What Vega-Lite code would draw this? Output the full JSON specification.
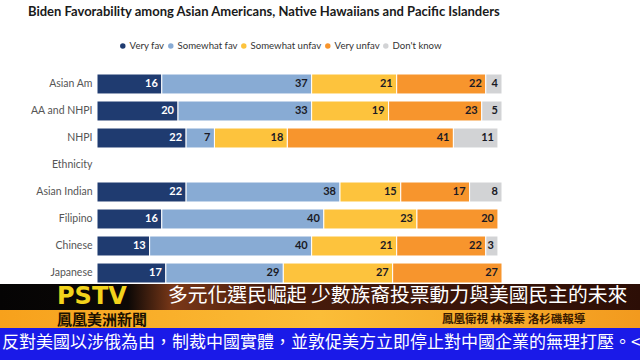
{
  "$schema": "https://vega.github.io/schema/vega-lite/v6.json",
  "background": "white",
  "padding": {"left": 0, "top": 5, "right": 0, "bottom": 0},
  "columns": 1,
  "spacing": 0,
  "config": {"view": {"stroke": null}},
  "concat": [
    {
      "width": 502,
      "height": 209,
      "title": {
        "text": "Biden Favorability among Asian Americans, Native Hawaiians and Pacific Islanders",
        "anchor": "start",
        "frame": "group",
        "dx": 28,
        "offset": 55,
        "font": "Lato",
        "fontSize": 13,
        "fontWeight": "bold",
        "color": "#1a1a1a"
      },
      "data": {
        "values": [
          {"group": "Asian Am", "response": "Very fav", "value": 16},
          {"group": "Asian Am", "response": "Somewhat fav", "value": 37},
          {"group": "Asian Am", "response": "Somewhat unfav", "value": 21},
          {"group": "Asian Am", "response": "Very unfav", "value": 22},
          {"group": "Asian Am", "response": "Don't know", "value": 4},
          {"group": "AA and NHPI", "response": "Very fav", "value": 20},
          {"group": "AA and NHPI", "response": "Somewhat fav", "value": 33},
          {"group": "AA and NHPI", "response": "Somewhat unfav", "value": 19},
          {"group": "AA and NHPI", "response": "Very unfav", "value": 23},
          {"group": "AA and NHPI", "response": "Don't know", "value": 5},
          {"group": "NHPI", "response": "Very fav", "value": 22},
          {"group": "NHPI", "response": "Somewhat fav", "value": 7},
          {"group": "NHPI", "response": "Somewhat unfav", "value": 18},
          {"group": "NHPI", "response": "Very unfav", "value": 41},
          {"group": "NHPI", "response": "Don't know", "value": 11},
          {"group": "Asian Indian", "response": "Very fav", "value": 22},
          {"group": "Asian Indian", "response": "Somewhat fav", "value": 38},
          {"group": "Asian Indian", "response": "Somewhat unfav", "value": 15},
          {"group": "Asian Indian", "response": "Very unfav", "value": 17},
          {"group": "Asian Indian", "response": "Don't know", "value": 8},
          {"group": "Filipino", "response": "Very fav", "value": 16},
          {"group": "Filipino", "response": "Somewhat fav", "value": 40},
          {"group": "Filipino", "response": "Somewhat unfav", "value": 23},
          {"group": "Filipino", "response": "Very unfav", "value": 20},
          {"group": "Chinese", "response": "Very fav", "value": 13},
          {"group": "Chinese", "response": "Somewhat fav", "value": 40},
          {"group": "Chinese", "response": "Somewhat unfav", "value": 21},
          {"group": "Chinese", "response": "Very unfav", "value": 22},
          {"group": "Chinese", "response": "Don't know", "value": 3},
          {"group": "Japanese", "response": "Very fav", "value": 17},
          {"group": "Japanese", "response": "Somewhat fav", "value": 29},
          {"group": "Japanese", "response": "Somewhat unfav", "value": 27},
          {"group": "Japanese", "response": "Very unfav", "value": 27}
        ]
      },
      "transform": [
        {"calculate": "indexof(['Very fav','Somewhat fav','Somewhat unfav','Very unfav',\"Don't know\"], datum.response)", "as": "k"}
      ],
      "encoding": {
        "y": {
          "field": "group",
          "type": "nominal",
          "scale": {
            "domain": ["Asian Am", "AA and NHPI", "NHPI", "Ethnicity", "Asian Indian", "Filipino", "Chinese", "Japanese"],
            "paddingInner": 0.26,
            "paddingOuter": 0
          },
          "axis": {
            "title": null,
            "domain": false,
            "ticks": false,
            "offset": -97,
            "labelFont": "Lato",
            "labelFontSize": 10.5,
            "labelColor": "#555555",
            "labelPadding": 5
          }
        },
        "x": {
          "field": "value",
          "type": "quantitative",
          "stack": "zero",
          "scale": {"domain": [0, 100], "nice": false, "range": [97, 502]},
          "axis": null
        },
        "order": {"field": "k", "type": "quantitative"},
        "detail": {"field": "response", "type": "nominal"}
      },
      "layer": [
        {
          "mark": {"type": "bar", "stroke": "white", "strokeWidth": 1},
          "encoding": {
            "color": {
              "field": "response",
              "type": "nominal",
              "scale": {
                "domain": ["Very fav", "Somewhat fav", "Somewhat unfav", "Very unfav", "Don't know"],
                "range": ["#1f3b70", "#88abd4", "#fdc33d", "#f7952d", "#d2d3d5"]
              },
              "legend": {
                "orient": "none",
                "legendX": 118,
                "legendY": -33,
                "direction": "horizontal",
                "title": null,
                "symbolType": "circle",
                "symbolSize": 30,
                "symbolStrokeWidth": 0,
                "labelFont": "Lato",
                "labelFontSize": 9.6,
                "labelColor": "#333333",
                "labelOffset": 2,
                "columnPadding": 1
              }
            }
          }
        },
        {
          "mark": {"type": "text", "align": "right", "baseline": "middle", "dx": -4, "font": "Lato", "fontWeight": "bold", "fontSize": 11},
          "encoding": {
            "text": {"field": "value", "type": "quantitative"},
            "color": {
              "condition": {"test": "datum.response === 'Very fav'", "value": "#ffffff"},
              "value": "#1a1a24"
            }
          }
        }
      ]
    },
    {
      "width": 640,
      "height": 26,
      "data": {"values": [{"logo": "PSTV", "headline": "多元化選民崛起 少數族裔投票動力與美國民主的未來"}]},
      "layer": [
        {
          "mark": {
            "type": "rect",
            "fill": {
              "gradient": "linear", "x1": 0, "x2": 1, "y1": 0, "y2": 0,
              "stops": [
                {"offset": 0, "color": "#050404"},
                {"offset": 0.2, "color": "#0c0806"},
                {"offset": 0.27, "color": "#7a3818"},
                {"offset": 0.42, "color": "#4a1c0c"},
                {"offset": 1, "color": "#2c0e06"}
              ]
            }
          },
          "encoding": {}
        },
        {
          "mark": {"type": "text", "align": "left", "baseline": "middle", "dx": -263, "font": "DejaVu Sans", "fontWeight": "bold", "fontSize": 24, "color": "#f2d31b"},
          "encoding": {"text": {"field": "logo"}}
        },
        {
          "mark": {"type": "text", "align": "left", "baseline": "middle", "dx": -152, "dy": -1, "font": "Noto Sans CJK TC", "fontSize": 19.8, "color": "#ffffff"},
          "encoding": {"text": {"field": "headline"}}
        }
      ]
    },
    {
      "width": 640,
      "height": 18,
      "data": {"values": [{"left": "鳳凰美洲新聞", "right": "鳳凰衛視 林漢秦 洛杉磯報導"}]},
      "layer": [
        {
          "mark": {
            "type": "rect",
            "fill": {
              "gradient": "linear", "x1": 0, "x2": 1, "y1": 0, "y2": 0,
              "stops": [
                {"offset": 0, "color": "#f7a11c"},
                {"offset": 0.5, "color": "#fbbd38"},
                {"offset": 1, "color": "#f29a1e"}
              ]
            }
          },
          "encoding": {}
        },
        {
          "mark": {"type": "text", "align": "left", "baseline": "middle", "dx": -263, "dy": 1, "font": "Noto Sans CJK TC", "fontWeight": "bold", "fontSize": 15, "color": "#1a1000"},
          "encoding": {"text": {"field": "left"}}
        },
        {
          "mark": {"type": "text", "align": "left", "baseline": "middle", "dx": 122, "dy": 1, "font": "Noto Sans CJK TC", "fontWeight": "bold", "fontSize": 11.5, "color": "#3a1a00"},
          "encoding": {"text": {"field": "right"}}
        }
      ]
    },
    {
      "width": 640,
      "height": 33,
      "view": {"fill": "#1a1ae8", "stroke": null},
      "data": {"values": [{"ticker": "反對美國以涉俄為由，制裁中國實體，並敦促美方立即停止對中國企業的無理打壓。<美"}]},
      "mark": {"type": "text", "align": "left", "baseline": "middle", "dx": -318, "dy": -2, "font": "Noto Sans CJK TC", "fontSize": 17, "color": "#ffffff", "clip": true},
      "encoding": {"text": {"field": "ticker"}}
    }
  ]
}
